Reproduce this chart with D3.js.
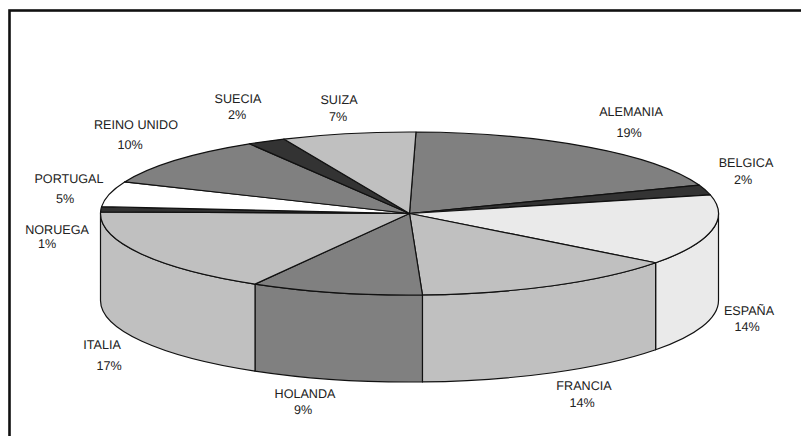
<!DOCTYPE html>
<html>
<head>
<meta charset="utf-8">
<script src="https://cdnjs.cloudflare.com/ajax/libs/d3/7.8.5/d3.min.js"></script>
<style>
html,body{margin:0;padding:0;background:#fff;overflow:hidden}
svg{display:block}
text{font-family:"Liberation Sans",Arial,sans-serif;font-size:12.6px;fill:#222;text-anchor:middle;text-rendering:geometricPrecision}
</style>
</head>
<body>
<svg id="chart" width="801" height="436"></svg>
<script>
// Country shares, clockwise from twelve o'clock
const countries = ["ALEMANIA","BELGICA","ESPAÑA","FRANCIA","HOLANDA","ITALIA","NORUEGA","PORTUGAL","REINO UNIDO","SUECIA","SUIZA"];
const shares = [19,2,14,14,9,17,1,5,10,2,7];
const greys = ["#808080","#333333","#eaeaea","#c0c0c0","#808080","#c0c0c0","#333333","#ffffff","#808080","#333333","#c0c0c0"];
const labelX = [631,746,749,584,305,102,57,69,136,238,339];
const labelY = [116,167,315,390,398,349,234,183,129,103,104];
const percentX = [629,743,747,582,303,109,47,65,130,237,338];
const percentY = [137,184,331,407,414,370,248,203,149,119,121];

const cx = 409.5, cy = 213.5, rx = 309, ry = 81.5, depth = 87;
const rotation = 1.2 * Math.PI / 180;
const svg = d3.select("#chart");

// Frame: its right and lower sides run past the edge of the page
svg.append("rect").attr("x",9.5).attr("y",10.5).attr("width",820).attr("height",460)
  .attr("fill","#fff").attr("stroke","#111").attr("stroke-width",2.6);

const slices = d3.pie().value(d => d).sort(null)
  .startAngle(rotation).endAngle(2 * Math.PI + rotation)(shares);
const px = a => cx + rx * Math.sin(a);
const py = a => cy - ry * Math.cos(a);

// Outer wall of the disc: only the front half (90° to 270°) faces the viewer
const wallLayer = svg.append("g");
slices.forEach((s, i) => {
  const a0 = Math.max(s.startAngle, Math.PI / 2), a1 = Math.min(s.endAngle, 3 * Math.PI / 2);
  if (a1 <= a0) return;
  const p = d3.path();
  p.moveTo(px(a0), py(a0));
  p.lineTo(px(a0), py(a0) + depth);
  const bottom = `A${rx},${ry} 0 0 1 ${px(a1)},${py(a1) + depth}`;
  const top = `A${rx},${ry} 0 0 0 ${px(a0)},${py(a0)}`;
  wallLayer.append("path")
    .attr("d", `${p}${bottom}L${px(a1)},${py(a1)}${top}Z`)
    .attr("fill", greys[i]).attr("stroke", "#111").attr("stroke-width", 1.2).attr("stroke-linejoin","round");
});

// Top face of the disc
svg.append("g").selectAll("path").data(slices).join("path")
  .attr("d", s => {
    const large = s.endAngle - s.startAngle > Math.PI ? 1 : 0;
    return `M${cx},${cy}L${px(s.startAngle)},${py(s.startAngle)}A${rx},${ry} 0 ${large} 1 ${px(s.endAngle)},${py(s.endAngle)}Z`;
  })
  .attr("fill", (s, i) => greys[i]).attr("stroke", "#111").attr("stroke-width", 1.2).attr("stroke-linejoin","round");

// Country name with its percentage below
const labels = svg.append("g");
countries.forEach((name, i) => {
  labels.append("text").attr("x", labelX[i]).attr("y", labelY[i]).text(name);
  labels.append("text").attr("x", percentX[i]).attr("y", percentY[i]).text(shares[i] + "%");
});
</script>
</body>
</html>
